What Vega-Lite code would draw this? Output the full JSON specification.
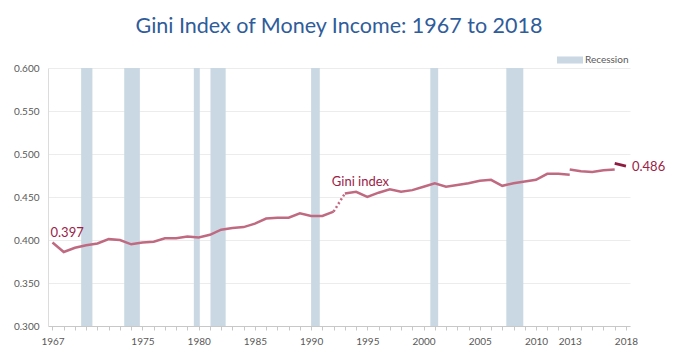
{
  "$schema": "https://vega.github.io/schema/vega-lite/v6.json",
  "width": 582,
  "height": 258,
  "autosize": {"type": "none"},
  "padding": {"left": 48, "top": 68, "right": 50, "bottom": 29},
  "background": "white",
  "title": {
    "text": "Gini Index of Money Income: 1967 to 2018",
    "font": "Lato",
    "fontSize": 21.5,
    "fontWeight": "normal",
    "color": "#2f5c9a",
    "anchor": "middle",
    "offset": 10
  },
  "config": {
    "view": {"stroke": null},
    "axis": {"labelFont": "Lato", "labelFontSize": 10, "labelColor": "#595959"},
    "axisX": {"labelOverlap": false, "labelFlush": false}
  },
  "datasets": {
    "gini": [
      {"year": 1967, "gini": 0.397, "seg": "a"},
      {"year": 1968, "gini": 0.386, "seg": "a"},
      {"year": 1969, "gini": 0.391, "seg": "a"},
      {"year": 1970, "gini": 0.394, "seg": "a"},
      {"year": 1971, "gini": 0.396, "seg": "a"},
      {"year": 1972, "gini": 0.401, "seg": "a"},
      {"year": 1973, "gini": 0.400, "seg": "a"},
      {"year": 1974, "gini": 0.395, "seg": "a"},
      {"year": 1975, "gini": 0.397, "seg": "a"},
      {"year": 1976, "gini": 0.398, "seg": "a"},
      {"year": 1977, "gini": 0.402, "seg": "a"},
      {"year": 1978, "gini": 0.402, "seg": "a"},
      {"year": 1979, "gini": 0.404, "seg": "a"},
      {"year": 1980, "gini": 0.403, "seg": "a"},
      {"year": 1981, "gini": 0.406, "seg": "a"},
      {"year": 1982, "gini": 0.412, "seg": "a"},
      {"year": 1983, "gini": 0.414, "seg": "a"},
      {"year": 1984, "gini": 0.415, "seg": "a"},
      {"year": 1985, "gini": 0.419, "seg": "a"},
      {"year": 1986, "gini": 0.425, "seg": "a"},
      {"year": 1987, "gini": 0.426, "seg": "a"},
      {"year": 1988, "gini": 0.426, "seg": "a"},
      {"year": 1989, "gini": 0.431, "seg": "a"},
      {"year": 1990, "gini": 0.428, "seg": "a"},
      {"year": 1991, "gini": 0.428, "seg": "a"},
      {"year": 1992, "gini": 0.433, "seg": "a"},
      {"year": 1992, "gini": 0.433, "seg": "dot"},
      {"year": 1993, "gini": 0.454, "seg": "dot"},
      {"year": 1993, "gini": 0.454, "seg": "b"},
      {"year": 1994, "gini": 0.456, "seg": "b"},
      {"year": 1995, "gini": 0.450, "seg": "b"},
      {"year": 1996, "gini": 0.455, "seg": "b"},
      {"year": 1997, "gini": 0.459, "seg": "b"},
      {"year": 1998, "gini": 0.456, "seg": "b"},
      {"year": 1999, "gini": 0.458, "seg": "b"},
      {"year": 2000, "gini": 0.462, "seg": "b"},
      {"year": 2001, "gini": 0.466, "seg": "b"},
      {"year": 2002, "gini": 0.462, "seg": "b"},
      {"year": 2003, "gini": 0.464, "seg": "b"},
      {"year": 2004, "gini": 0.466, "seg": "b"},
      {"year": 2005, "gini": 0.469, "seg": "b"},
      {"year": 2006, "gini": 0.470, "seg": "b"},
      {"year": 2007, "gini": 0.463, "seg": "b"},
      {"year": 2008, "gini": 0.466, "seg": "b"},
      {"year": 2009, "gini": 0.468, "seg": "b"},
      {"year": 2010, "gini": 0.470, "seg": "b"},
      {"year": 2011, "gini": 0.477, "seg": "b"},
      {"year": 2012, "gini": 0.477, "seg": "b"},
      {"year": 2013, "gini": 0.476, "seg": "b"},
      {"year": 2013, "gini": 0.482, "seg": "c"},
      {"year": 2014, "gini": 0.480, "seg": "c"},
      {"year": 2015, "gini": 0.479, "seg": "c"},
      {"year": 2016, "gini": 0.481, "seg": "c"},
      {"year": 2017, "gini": 0.482, "seg": "c"},
      {"year": 2017, "gini": 0.489, "seg": "d"},
      {"year": 2018, "gini": 0.486, "seg": "d"}
    ],
    "recessions": [
      {"year": 1969.55, "end": 1970.55},
      {"year": 1973.38, "end": 1974.77},
      {"year": 1979.57, "end": 1980.1},
      {"year": 1981.05, "end": 1982.4},
      {"year": 1990.0, "end": 1990.77},
      {"year": 2000.6, "end": 2001.3},
      {"year": 2007.36, "end": 2008.87}
    ]
  },
  "encoding": {
    "x": {
      "field": "year",
      "type": "quantitative",
      "scale": {"domain": [1966.6, 2018.36], "nice": false, "zero": false},
      "axis": {
        "title": null,
        "grid": false,
        "values": [1967,1968,1969,1970,1971,1972,1973,1974,1975,1976,1977,1978,1979,1980,1981,1982,1983,1984,1985,1986,1987,1988,1989,1990,1991,1992,1993,1994,1995,1996,1997,1998,1999,2000,2001,2002,2003,2004,2005,2006,2007,2008,2009,2010,2011,2012,2013,2014,2015,2016,2017,2018],
        "labelExpr": "indexof([1967,1975,1980,1985,1990,1995,2000,2005,2010,2013,2018], datum.value) >= 0 ? format(datum.value, 'd') : ''",
        "tickSize": 4,
        "tickColor": "#c8c8c8",
        "domainColor": "#c8c8c8",
        "labelPadding": 6,
        "labelFlush": false,
        "labelOverlap": false
      }
    }
  },
  "layer": [
    {
      "data": {"name": "recessions"},
      "mark": {"type": "rect"},
      "encoding": {
        "x2": {"field": "end"},
        "color": {
          "datum": "Recession",
          "scale": {"range": ["#c9d8e3"]},
          "legend": {
            "title": null,
            "orient": "none",
            "legendX": 509,
            "legendY": -21,
            "symbolType": "M-1,-0.27H1V0.27H-1Z",
            "symbolSize": 676,
            "symbolStrokeWidth": 0,
            "symbolOpacity": 1,
            "labelFont": "Lato",
            "labelFontSize": 10,
            "labelColor": "#595959",
            "labelOffset": 2
          }
        }
      }
    },
    {
      "data": {"name": "gini"},
      "transform": [{"filter": "datum.seg == 'a' || datum.seg == 'b' || datum.seg == 'c'"}],
      "mark": {"type": "line", "color": "#c06a81", "strokeWidth": 2.5},
      "encoding": {
        "y": {
          "field": "gini",
          "type": "quantitative",
          "scale": {"domain": [0.3, 0.6], "nice": false, "zero": false},
          "axis": {
            "title": null,
            "values": [0.3, 0.35, 0.4, 0.45, 0.5, 0.55, 0.6],
            "format": ".3f",
            "ticks": false,
            "labelPadding": 9,
            "domainColor": "#dcdcdc",
            "gridColor": "#ececec"
          }
        },
        "detail": {"field": "seg"}
      }
    },
    {
      "data": {"name": "gini"},
      "transform": [{"filter": "datum.seg == 'dot'"}],
      "mark": {"type": "line", "color": "#c06a81", "strokeWidth": 2.5, "strokeDash": [2, 2.5]},
      "encoding": {
        "y": {"field": "gini", "type": "quantitative"}
      }
    },
    {
      "data": {"name": "gini"},
      "transform": [{"filter": "datum.seg == 'd'"}],
      "mark": {"type": "line", "color": "#8e1c40", "strokeWidth": 2.8},
      "encoding": {
        "y": {"field": "gini", "type": "quantitative"}
      }
    },
    {
      "data": {"name": "gini"},
      "transform": [{"filter": "datum.year == 1967"}],
      "mark": {"type": "text", "align": "left", "baseline": "alphabetic", "dx": -2, "dy": -6, "font": "Lato", "fontSize": 13, "color": "#9b2246"},
      "encoding": {
        "y": {"field": "gini", "type": "quantitative"},
        "text": {"field": "gini", "type": "quantitative", "format": ".3f"}
      }
    },
    {
      "data": {"name": "gini"},
      "transform": [{"filter": "datum.year == 1993 && datum.seg == 'b'"}],
      "mark": {"type": "text", "text": "Gini index", "align": "left", "baseline": "alphabetic", "dx": -13, "dy": -8, "font": "Lato", "fontSize": 13, "color": "#9b2246"},
      "encoding": {
        "y": {"field": "gini", "type": "quantitative"}
      }
    },
    {
      "data": {"name": "gini"},
      "transform": [{"filter": "datum.year == 2018"}],
      "mark": {"type": "text", "align": "left", "baseline": "alphabetic", "dx": 6, "dy": 5, "font": "Lato", "fontSize": 13, "color": "#9b2246", "clip": false},
      "encoding": {
        "y": {"field": "gini", "type": "quantitative"},
        "text": {"field": "gini", "type": "quantitative", "format": ".3f"}
      }
    }
  ]
}
